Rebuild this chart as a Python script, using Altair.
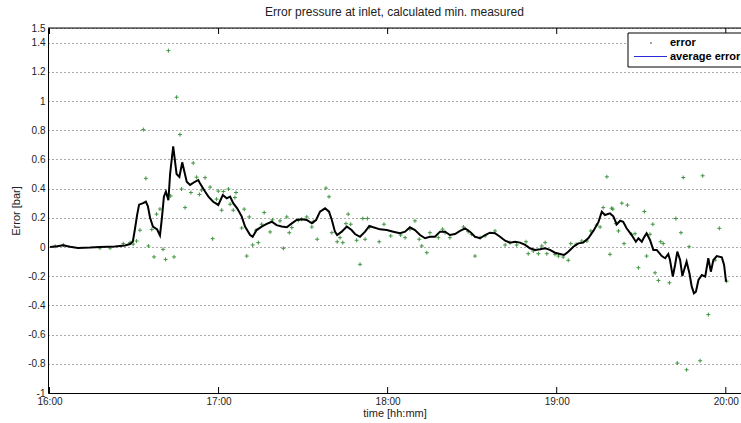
import altair as alt
import pandas as pd

TITLE = "Error pressure at inlet, calculated min. measured"
X_TITLE = "time [hh:mm]"
Y_TITLE = "Error [bar]"
FONT = "Liberation Sans"

# Averaged error: minutes after 16:00 and error in bar
avg_min = [0.2, 2.7, 4.8, 7.3, 10.1, 14.4, 17.9, 23.2, 26.8, 28.6,
           29.6, 30.3, 31.1, 31.8, 33.2, 34.2, 34.9, 35.7, 36.7, 38.2,
           39.2, 39.9, 40.6, 41.3, 42.2, 42.8, 43.9, 45.1, 46.1, 47.1,
           48.7, 49.9, 51.6, 52.8, 53.4, 55.2, 56.4, 58.1, 59.9, 61.5,
           62.9, 64.1, 65.2, 66.6, 68.2, 69.4, 71.2, 72.1, 73.5, 75.3,
           77.1, 78.9, 80.6, 82.4, 84.2, 86.0, 87.7, 89.5, 91.3, 93.1,
           94.6, 96.0, 97.8, 99.2, 100.2, 101.3, 102.1, 103.7, 105.5, 107.2,
           108.4, 110.2, 112.0, 113.5, 114.9, 117.3, 119.7, 122.0, 124.4, 126.2,
           127.9, 129.7, 131.5, 133.3, 135.0, 136.8, 138.6, 140.4, 142.1, 143.9,
           145.7, 147.5, 149.2, 151.0, 152.8, 154.6, 156.3, 158.1, 159.9, 161.7,
           163.4, 165.2, 167.0, 168.8, 170.5, 172.3, 174.1, 175.9, 177.6, 179.4,
           181.2, 182.6, 184.1, 185.9, 187.7, 189.4, 191.2, 193.0, 194.8, 196.0,
           197.1, 198.9, 200.1, 201.3, 202.5, 203.6, 204.8, 206.6, 208.1, 209.0,
           210.2, 211.0, 211.9, 213.1, 214.3, 215.5, 217.3, 218.5, 219.6, 220.2,
           221.2, 222.0, 222.8, 223.8, 224.6, 225.2, 226.1, 227.1, 227.9, 228.7,
           229.4, 230.3, 231.5, 232.7, 233.8, 234.7, 235.6, 236.8, 238.6, 239.4,
           240.1]
avg_err = [0.0, 0.005, 0.012, 0.002, -0.006, -0.004, 0.0, 0.004, 0.01, 0.02,
           0.04, 0.12, 0.22, 0.29, 0.30, 0.31, 0.28, 0.2, 0.14, 0.12,
           0.08, 0.20, 0.345, 0.38, 0.32, 0.50, 0.69, 0.50, 0.48, 0.58,
           0.447, 0.425, 0.447, 0.459, 0.436, 0.38, 0.345, 0.31, 0.288, 0.356,
           0.333, 0.345, 0.30, 0.265, 0.21, 0.14, 0.082, 0.07, 0.116, 0.14,
           0.158, 0.173, 0.15, 0.14, 0.135, 0.162, 0.185, 0.19, 0.185, 0.162,
           0.185, 0.242, 0.265, 0.242, 0.185, 0.105, 0.082, 0.105, 0.14, 0.116,
           0.089, 0.07, 0.105, 0.144, 0.135, 0.121, 0.116, 0.105, 0.094, 0.105,
           0.135, 0.116, 0.082, 0.06, 0.07, 0.07, 0.105, 0.105, 0.082, 0.089,
           0.11, 0.128, 0.105, 0.07, 0.06, 0.082, 0.098, 0.094, 0.07, 0.043,
           0.03, 0.036, 0.03, 0.014, -0.009, -0.02, -0.016, -0.009, -0.02, -0.039,
           -0.048, -0.055, -0.032, 0.002, 0.025, 0.03, 0.06, 0.11, 0.17, 0.242,
           0.219, 0.23, 0.21, 0.155, 0.18, 0.173, 0.128, 0.082, 0.036, 0.06,
           0.036, 0.066, 0.094, 0.048, -0.02, -0.02, -0.062, -0.077, -0.048, -0.089,
           -0.203, -0.123, -0.032, -0.089, -0.199, -0.158, -0.1, -0.18, -0.27, -0.317,
           -0.306, -0.226, -0.192, -0.203, -0.077, -0.169, -0.089, -0.062, -0.071, -0.123,
           -0.238]

# Single error samples: minutes after 16:00 and error in bar
pt_min = [2.0, 4.9, 17.9, 21.5, 26.2, 28.6, 29.7, 30.9, 32.1, 33.3,
          34.2, 35.1, 36.3, 37.1, 38.0, 39.2, 40.3, 41.2, 42.2, 43.0,
          44.2, 45.1, 46.3, 46.9, 48.1, 50.2, 51.0, 52.2, 53.2, 54.0,
          55.2, 57.0, 57.9, 59.3, 59.9, 61.1, 61.7, 63.5, 64.1, 65.2,
          65.8, 66.2, 68.2, 69.1, 70.0, 70.9, 72.1, 73.3, 74.1, 75.3,
          76.2, 78.3, 79.1, 81.8, 83.0, 84.2, 85.1, 86.0, 88.3, 89.5,
          91.3, 93.1, 93.6, 95.0, 98.1, 99.2, 100.2, 102.1, 103.1, 104.1,
          105.2, 106.0, 106.9, 109.0, 110.2, 111.2, 112.0, 112.8, 113.5, 117.0,
          118.7, 121.1, 124.6, 126.2, 127.9, 129.7, 131.2, 132.1, 133.9, 135.0,
          138.0, 139.5, 140.4, 142.1, 146.9, 148.6, 149.8, 151.0, 152.8, 154.6,
          158.1, 161.7, 163.4, 165.8, 169.1, 169.9, 171.7, 173.5, 174.7, 175.9,
          176.5, 179.4, 180.6, 182.3, 184.1, 185.0, 186.9, 188.9, 190.7, 192.1,
          194.2, 195.4, 196.5, 197.8, 198.9, 199.5, 199.9, 201.0, 201.9, 203.1,
          203.9, 205.1, 206.6, 207.8, 209.0, 211.1, 211.9, 213.1, 214.1, 214.9,
          216.1, 216.9, 217.8, 220.0, 222.3, 222.8, 224.1, 224.9, 226.1, 227.0,
          230.9, 231.8, 233.8, 236.2, 237.7, 240.3]
pt_err = [0.005, 0.014, -0.007, -0.007, 0.023, 0.03, 0.02, 0.041, 0.115, 0.804,
          0.47, 0.007, 0.12, -0.068, 0.225, 0.26, -0.016, -0.085, 1.345, 0.35,
          -0.068, 1.026, 0.77, 0.397, 0.27, 0.373, 0.575, 0.478, 0.36, 0.39,
          0.475, 0.41, 0.057, 0.328, 0.383, 0.252, 0.38, 0.397, 0.293, 0.252,
          0.339, 0.373, 0.13, 0.259, -0.062, 0.206, 0.014, 0.115, 0.03, 0.156,
          0.236, 0.103, 0.186, 0.179, -0.009, 0.206, 0.098, 0.133, 0.183, 0.19,
          0.206, 0.137, 0.174, 0.053, 0.403, 0.344, 0.098, 0.036, 0.064, 0.03,
          0.16, 0.225, 0.156, 0.046, -0.119, 0.195, 0.053, 0.195, 0.133, 0.036,
          0.156, 0.076, 0.082, 0.064, 0.122, 0.179, 0.053, 0.007, -0.039, 0.098,
          0.064, 0.122, 0.098, 0.064, 0.137, 0.105, 0.087, -0.062, 0.064, 0.076,
          0.11, 0.014, 0.03, 0.014, 0.036, -0.046, -0.027, -0.046, 0.007, 0.03,
          -0.046, -0.05, -0.062, -0.069, -0.091, 0.023, 0.019, 0.041, 0.041, 0.11,
          0.151, 0.137, 0.27, 0.481, -0.05, 0.266, 0.259, 0.16, 0.11, 0.30,
          0.023, 0.287, 0.087, 0.091, -0.142, 0.243, -0.062, 0.087, 0.156, -0.177,
          -0.229, 0.036, 0.023, -0.245, 0.195, -0.795, 0.098, 0.476, -0.841, 0.002,
          -0.779, 0.488, -0.463, -0.09, 0.128, -0.234]

hour_ticks = [0, 60, 120, 180, 240]
hour_labels = ["16:00", "17:00", "18:00", "19:00", "20:00"]
y_ticks = [-1, -0.8, -0.6, -0.4, -0.2, 0, 0.2, 0.4, 0.6, 0.8, 1, 1.2, 1.4, 1.5]
legend_labels = ["error", "average error"]

avg_df = pd.DataFrame({"minute": avg_min, "error": avg_err})
pt_df = pd.DataFrame({"minute": pt_min, "error": pt_err})
tick_df = pd.DataFrame({"minute": hour_ticks})
one_df = pd.DataFrame({"k": [0]})

W, H = 693, 365
x_scale = alt.Scale(domain=[-0.53, 245.4], nice=False, zero=False)
y_scale = alt.Scale(domain=[-1, 1.5], nice=False, zero=False)

label_js = "[" + ",".join(f"'{s}'" for s in hour_labels) + "]"
tick_js = "[" + ",".join(str(v) for v in hour_ticks) + "]"

x_axis = alt.Axis(
    values=hour_ticks, tickCount=len(hour_ticks) + 2,
    labelExpr=f"{label_js}[indexof({tick_js}, datum.value)]",
    title=X_TITLE, grid=False, ticks=False,
    domainColor="#000", labelPadding=3, titlePadding=1,
    labelFont=FONT, titleFont=FONT, labelFontSize=10, titleFontSize=11,
    titleFontWeight="normal", labelColor="#222", titleColor="#222",
    labelFlush=False, labelOverlap=False,
)
y_axis = alt.Axis(
    values=y_ticks, tickCount=len(y_ticks) + 2, labelExpr="'' + datum.value",
    title=Y_TITLE, grid=True, gridDash=[1, 3], gridColor="#555",
    ticks=False, domainColor="#000", labelPadding=3, titlePadding=6,
    labelFont=FONT, titleFont=FONT, labelFontSize=10, titleFontSize=11,
    titleFontWeight="normal", labelColor="#222", titleColor="#222",
    labelFlush=False, labelOverlap=False,
)

cross = "M-1,0L1,0M0,-1L0,1"

points = alt.Chart(pt_df).mark_point(
    shape=cross, size=16, strokeWidth=1, filled=False, color="#2f8a2f", opacity=0.9
).encode(
    x=alt.X("minute:Q", scale=x_scale, axis=x_axis),
    y=alt.Y("error:Q", scale=y_scale, axis=y_axis),
)

avg_line = alt.Chart(avg_df).mark_line(color="#000", strokeWidth=2).encode(
    x=alt.X("minute:Q", scale=x_scale),
    y=alt.Y("error:Q", scale=y_scale),
)

top_border = alt.Chart(one_df).mark_rule(color="#000", strokeWidth=1).encode(
    x=alt.value(0), x2=alt.value(W), y=alt.value(0)
)

top_ticks = alt.Chart(tick_df).mark_rule(color="#000").encode(
    x=alt.X("minute:Q", scale=x_scale), y=alt.value(0), y2=alt.value(6)
)
bottom_ticks = alt.Chart(tick_df).mark_rule(color="#000").encode(
    x=alt.X("minute:Q", scale=x_scale), y=alt.value(H - 6), y2=alt.value(H)
)

# Legend box in the upper right corner
leg_box = alt.Chart(one_df).mark_rect(fill="#fff", stroke="#000", strokeWidth=1).encode(
    x=alt.value(580), x2=alt.value(720), y=alt.value(5), y2=alt.value(39)
)
leg_dot = alt.Chart(one_df).mark_point(
    shape="circle", size=4, filled=True, color="#2f6a2f"
).encode(x=alt.value(603), y=alt.value(15))
leg_line = alt.Chart(one_df).mark_rule(color="#2a2ad8", strokeWidth=1.2).encode(
    x=alt.value(586), x2=alt.value(619), y=alt.value(28.5)
)
leg_text1 = alt.Chart(one_df).mark_text(
    align="left", baseline="middle", font=FONT, fontSize=11, fontWeight="bold", color="#000"
).encode(x=alt.value(622), y=alt.value(15), text=alt.value(legend_labels[0]))
leg_text2 = alt.Chart(one_df).mark_text(
    align="left", baseline="middle", font=FONT, fontSize=11, fontWeight="bold", color="#000"
).encode(x=alt.value(622), y=alt.value(29), text=alt.value(legend_labels[1]))

chart = alt.layer(
    points, avg_line, top_border, top_ticks, bottom_ticks,
    leg_box, leg_dot, leg_line, leg_text1, leg_text2,
).properties(
    width=W, height=H,
    title=alt.Title(TITLE, font=FONT, fontSize=12, fontWeight="normal",
                    color="#222", offset=4, anchor="middle"),
    autosize=alt.AutoSizeParams(type="none"),
    padding={"left": 48, "top": 28, "right": 0, "bottom": 30},
).configure_view(stroke=None).configure(background="#fff")

chart.save("out.html", embed_options={"renderer": "svg", "actions": False})
